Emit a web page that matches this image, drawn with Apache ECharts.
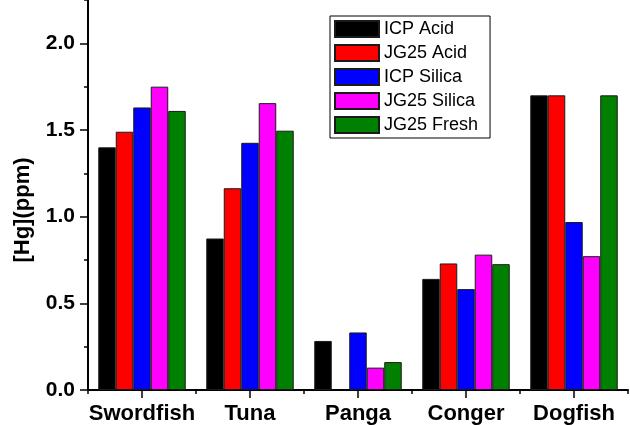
<!DOCTYPE html>
<html>
<head>
<meta charset="utf-8">
<script src="https://cdn.jsdelivr.net/npm/echarts@6/dist/echarts.min.js"></script>
<style>
html,body{margin:0;padding:0;background:#fff;}
#chart{width:630px;height:425px;}
</style>
</head>
<body>
<div id="chart"></div>
<script>
var categories = ['Swordfish', 'Tuna', 'Panga', 'Conger', 'Dogfish'];
var seriesNames = ['ICP Acid', 'JG25 Acid', 'ICP Silica', 'JG25 Silica', 'JG25 Fresh'];
var icpAcid    = [1.40, 0.874, 0.283, 0.641, 1.70];
var jg25Acid   = [1.49, 1.164, null,  0.730, 1.70];
var icpSilica  = [1.63, 1.426, 0.332, 0.582, 0.969];
var jg25Silica = [1.75, 1.655, 0.129, 0.781, 0.772];
var jg25Fresh  = [1.61, 1.496, 0.161, 0.726, 1.70];
var yAxisName = '[Hg](ppm)';

var seriesData = [icpAcid, jg25Acid, icpSilica, jg25Silica, jg25Fresh];
var colors = ['#000000', '#ff0000', '#0000ff', '#ff00ff', '#008000'];
var FONT = '"Liberation Sans", Arial, sans-serif';

var chart = echarts.init(document.getElementById('chart'), null, {renderer: 'canvas'});

var series = seriesNames.map(function (name, i) {
  return {
    name: name,
    type: 'bar',
    xAxisIndex: 0,
    yAxisIndex: 0,
    data: seriesData[i],
    barGap: '0%',
    barCategoryGap: '19%',
    itemStyle: {color: colors[i], borderColor: '#1a1a1a', borderWidth: 1},
    emphasis: {disabled: true},
    animation: false
  };
});

chart.setOption({
  backgroundColor: '#ffffff',
  animation: false,
  textStyle: {fontFamily: FONT},
  grid: {left: 88, right: 2, top: -4, bottom: 33, containLabel: false},
  legend: {
    orient: 'vertical',
    left: 330,
    top: 16,
    padding: [4, 12, 4, 4],
    itemWidth: 44,
    itemHeight: 16,
    itemGap: 6,
    borderColor: '#000',
    borderWidth: 1,
    backgroundColor: '#fff',
    icon: 'rect',
    selectedMode: false,
    textStyle: {fontFamily: FONT, fontSize: 18, color: '#000'},
    data: seriesNames
  },
  xAxis: [
    {
      type: 'category',
      data: categories,
      position: 'bottom',
      axisLine: {show: true, lineStyle: {color: '#000', width: 2}},
      axisTick: {show: true, alignWithLabel: true, length: 8, inside: false, lineStyle: {color: '#000', width: 1.5}},
      axisLabel: {show: true, margin: 13, color: '#000', fontFamily: FONT, fontSize: 22, fontWeight: 'bold', interval: 0},
      splitLine: {show: false}
    },
    {
      type: 'category',
      data: categories,
      position: 'bottom',
      axisLine: {show: false},
      axisTick: {show: true, length: 4, inside: false, lineStyle: {color: '#000', width: 1.5}},
      axisLabel: {show: false},
      splitLine: {show: false}
    }
  ],
  yAxis: [
    {
      type: 'value',
      min: 0,
      max: 2.25,
      interval: 0.5,
      position: 'left',
      name: yAxisName,
      nameLocation: 'middle',
      nameGap: 54,
      nameTextStyle: {color: '#000', fontFamily: FONT, fontSize: 22, fontWeight: 'bold', padding: [0, 30, 0, 0]},
      axisLine: {show: true, lineStyle: {color: '#000', width: 2}},
      axisTick: {show: true, length: 8, inside: false, lineStyle: {color: '#000', width: 1.5}},
      axisLabel: {show: true, margin: 13, color: '#000', fontFamily: FONT, fontSize: 21, fontWeight: 'bold', showMaxLabel: false,
        formatter: function (v) { return v.toFixed(1); }},
      splitLine: {show: false}
    },
    {
      type: 'value',
      min: 0,
      max: 2.25,
      interval: 0.25,
      position: 'left',
      axisLine: {show: false},
      axisTick: {show: true, length: 4, inside: false, lineStyle: {color: '#000', width: 1.5}},
      axisLabel: {show: false},
      splitLine: {show: false}
    }
  ],
  series: series
});
</script>
</body>
</html>
